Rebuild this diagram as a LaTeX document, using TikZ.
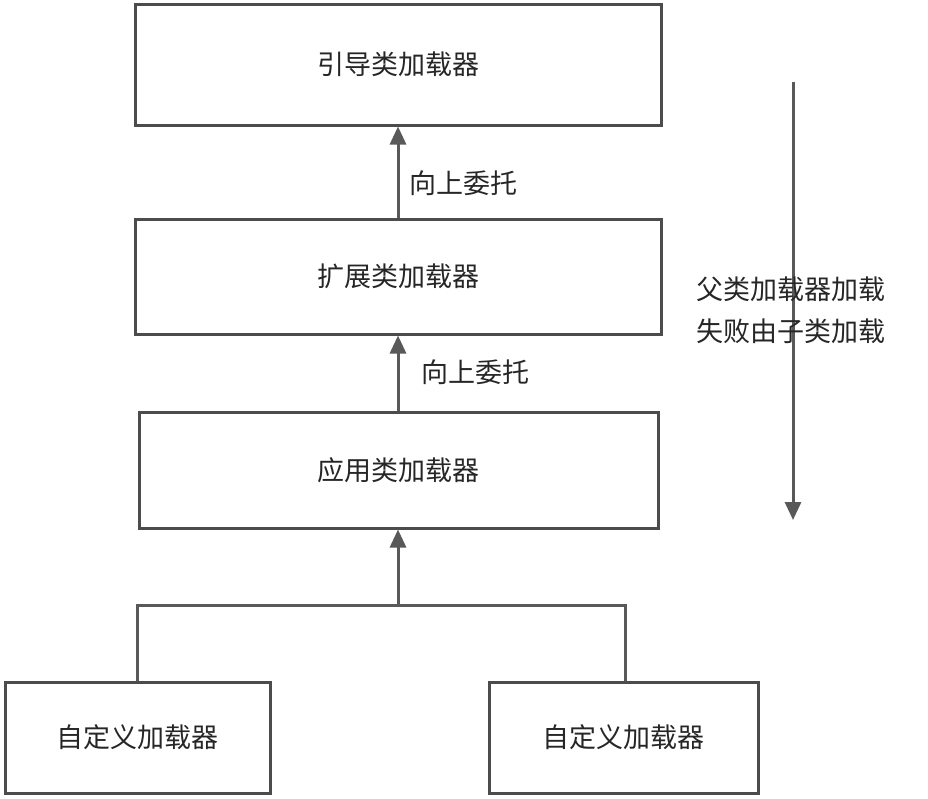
\documentclass[tikz,border=0pt]{standalone}
\usepackage{fontspec}
\setmainfont{Noto Sans CJK SC}
\usetikzlibrary{arrows.meta}
\begin{document}
\begin{tikzpicture}[x=1pt,y=-1pt,
  box/.style={draw=black!70,line width=3pt,inner sep=0pt},
  ln/.style={draw=black!65,line width=3pt},
  arr/.style={ln,-{Triangle[length=18pt,width=16pt]}},
  lbl/.style={font=\fontsize{27}{32}\selectfont,text=black!85}]
\useasboundingbox (0,0) rectangle (928,798);
\node[box,minimum width=526pt,minimum height=121pt,lbl] (a) at (398,64.5) {引导类加载器};
\node[box,minimum width=526pt,minimum height=115pt,lbl] (b) at (398,276.5) {扩展类加载器};
\node[box,minimum width=519pt,minimum height=116pt,lbl] (c) at (398.5,470) {应用类加载器};
\node[box,minimum width=265pt,minimum height=111pt,lbl] (d) at (137.5,737.5) {自定义加载器};
\node[box,minimum width=269pt,minimum height=111pt,lbl] (e) at (623.5,737.5) {自定义加载器};
\draw[arr] (b.north -| 398,0) -- (a.south -| 398,0);
\draw[arr] (c.north -| 398,0) -- (b.south -| 398,0);
\coordinate (j) at (398,605);
\draw[arr] (j) -- (c.south -| 398,0);
\draw[ln] (d.north -| 137,0) |- (j) -| (e.north -| 625,0);
\node[lbl] (l1) at (463,183) {向上委托};
\node[lbl] (l2) at (475,372) {向上委托};
\coordinate (t) at (793,82);
\coordinate (u) at (793,520);
\draw[arr] (t) -- (u);
\node[lbl,anchor=west,align=left] (r) at (693,310) {父类加载器加载\\[10pt]失败由子类加载};
\end{tikzpicture}
\end{document}
